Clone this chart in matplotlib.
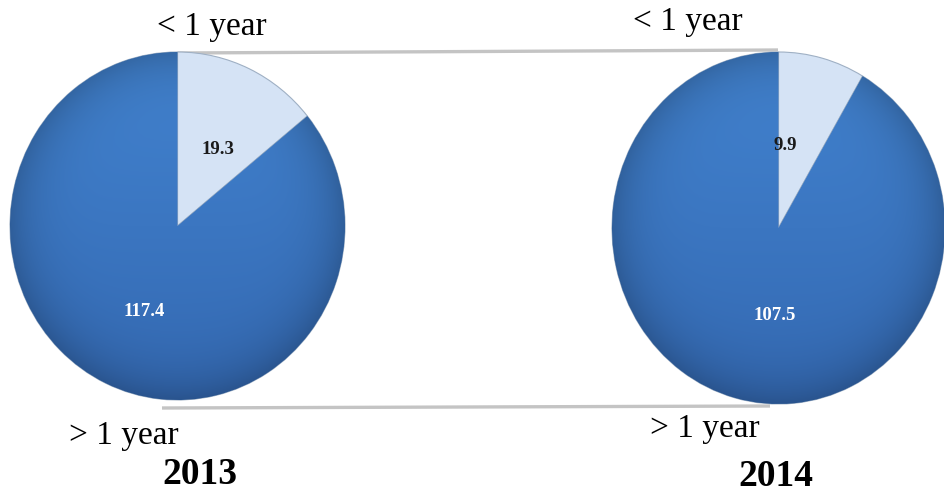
import numpy as np
import matplotlib.pyplot as plt
from matplotlib.colors import to_rgb

# data
years = ["2013", "2014"]
less_1y = [19.3, 9.9]
more_1y = [117.4, 107.5]
top_label = "< 1 year"
bottom_label = "> 1 year"

W, H = 945, 496
fig = plt.figure(figsize=(W / 100, H / 100), dpi=100)
fig.patch.set_facecolor("white")

# background axes in pixel units for the connector lines and texts
bg = fig.add_axes([0, 0, 1, 1])
bg.set_xlim(0, W)
bg.set_ylim(H, 0)
bg.axis("off")


def box(x0, y0, x1, y1):
    return [x0 / W, 1 - y1 / H, (x1 - x0) / W, (y1 - y0) / H]


pie_boxes = [box(10, 52, 345, 400), box(612, 52, 945, 404)]
# label positions inside each pie (axes data coords)
small_pos = [(0.24, 0.44), (0.04, 0.47)]
big_pos = [(-0.20, -0.49), (-0.02, -0.50)]

light = "#d5e3f5"
dark_top = np.array(to_rgb("#4283d0"))
dark_bot = np.array(to_rgb("#3469b2"))

# grey connector lines between the pies
bg.plot([178, 778], [53, 50], color="#c4c4c4", lw=2.4, solid_capstyle="butt", zorder=0)
bg.plot([162, 770], [408, 406], color="#c4c4c4", lw=2.4, solid_capstyle="butt", zorder=0)

yy, xx = np.mgrid[1:-1:300j, -1:1:300j]
rr = np.sqrt(xx ** 2 + yy ** 2)
t = ((1 - yy) / 2)[..., None]
grad = dark_top * (1 - t) + dark_bot * t
grad = grad * (1 - 0.2 * np.clip(rr, 0, 1)[..., None] ** 6)
grad = np.clip(grad, 0, 1)

serif = "Liberation Serif"
for i, yr in enumerate(years):
    ax = fig.add_axes(pie_boxes[i])
    wedges, _ = ax.pie([less_1y[i], more_1y[i]], colors=[light, dark_top],
                       startangle=90, counterclock=False, radius=1,
                       wedgeprops=dict(edgecolor="#9fb0c4", linewidth=0.8))
    im = ax.imshow(grad, extent=(-1, 1, -1, 1), zorder=wedges[1].get_zorder() + 0.1)
    im.set_clip_path(wedges[1])
    ax.set_aspect("auto")
    ax.set_xlim(-1, 1)
    ax.set_ylim(-1, 1)
    ax.axis("off")
    ax.text(*small_pos[i], f"{less_1y[i]}", ha="center", va="center",
            fontsize=13.5, fontweight="bold", family=serif, color="#1a1a1a", zorder=5)
    ax.text(*big_pos[i], f"{more_1y[i]}", ha="center", va="center",
            fontsize=13.5, fontweight="bold", family=serif, color="white", zorder=5)

bg.text(212, 27, top_label, ha="center", va="center", fontsize=24, family=serif)
bg.text(688, 22, top_label, ha="center", va="center", fontsize=24, family=serif)
bg.text(124, 436, bottom_label, ha="center", va="center", fontsize=24, family=serif)
bg.text(705, 429, bottom_label, ha="center", va="center", fontsize=24, family=serif)
bg.text(200, 474, years[0], ha="center", va="center", fontsize=27, fontweight="bold", family=serif)
bg.text(776, 476, years[1], ha="center", va="center", fontsize=27, fontweight="bold", family=serif)

fig.savefig("out.png", dpi=100)
